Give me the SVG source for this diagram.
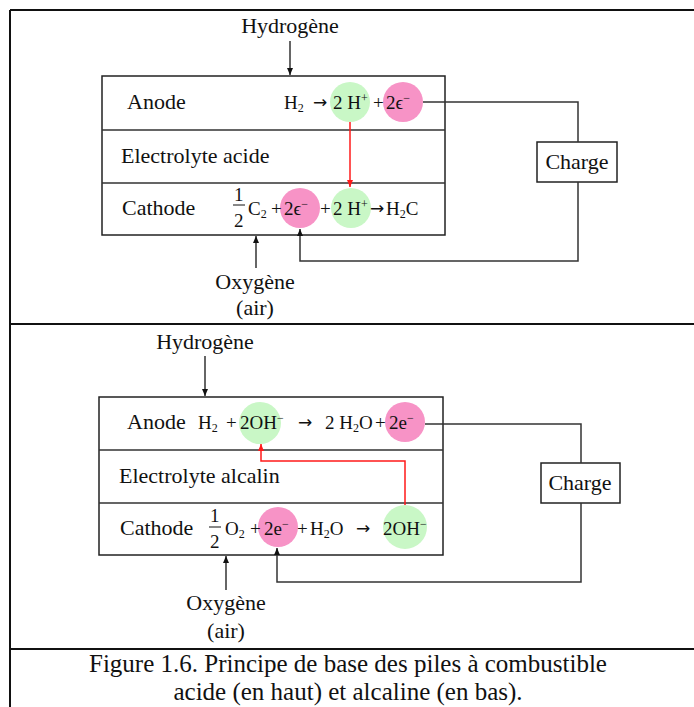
<svg xmlns="http://www.w3.org/2000/svg" width="694" height="707" viewBox="0 0 694 707">
<defs>
<style>
text{font-family:"Liberation Serif","Times New Roman",serif;fill:#111}
.lbl{font-size:22px}
.eq{font-size:19px}
.sub{font-size:12px}
.arr{font-family:"DejaVu Sans",sans-serif;font-size:17px}
.cap{font-size:25px}
.frame{stroke:#111;stroke-width:2;fill:none}
.box{stroke:#222;stroke-width:1.5;fill:#fff}
.wire{stroke:#333;stroke-width:1.5;fill:none}
.red{stroke:#ff1a1a;stroke-width:1.5;fill:none}
.g{fill:#c9f7c6}
.p{fill:#f793c6}
</style>
<marker id="ah" markerWidth="8" markerHeight="8" refX="7" refY="4" orient="auto" markerUnits="userSpaceOnUse"><path d="M0,1 L7,4 L0,7 Z" fill="#111"/></marker>
<marker id="ahr" markerWidth="8" markerHeight="8" refX="7" refY="4" orient="auto" markerUnits="userSpaceOnUse"><path d="M0,1 L7,4 L0,7 Z" fill="#ff1a1a"/></marker>
</defs>
<rect width="694" height="707" fill="#fff"/>
<g id="frame">
<path class="frame" d="M10,10 H694 M10,10 V707 M10,324 H694 M10,649 H694"/>
</g>

<!-- TOP: acid cell -->
<g id="top-cell">
<rect class="box" x="102" y="76" width="343" height="159"/>
<path class="wire" d="M102,130 H445 M102,183 H445"/>
</g>
<g id="top-anode">
<text class="lbl" x="127" y="109">Anode</text>
<circle class="g" cx="350" cy="102" r="20"/>
<circle class="p" cx="403" cy="102" r="20"/>
<text class="eq" x="284" y="109">H<tspan class="sub" dy="3">2</tspan></text>
<text class="arr" x="313" y="108">→</text>
<text class="eq" x="333" y="109">2 H<tspan class="sub" dy="-7">+</tspan></text>
<text class="eq" x="373" y="109">+</text>
<text class="eq" x="386" y="109">2ϵ<tspan class="sub" dy="-7">−</tspan></text>
</g>
<g id="top-electrolyte">
<text class="lbl" x="121" y="163">Electrolyte acide</text>
</g>
<g id="top-cathode">
<text class="lbl" x="122" y="215">Cathode</text>
<circle class="p" cx="300" cy="208" r="20"/>
<circle class="g" cx="351" cy="208" r="20"/>
<text class="eq" x="234" y="201">1</text>
<line x1="233" y1="205" x2="245" y2="205" stroke="#111" stroke-width="1"/>
<text class="eq" x="234" y="227">2</text>
<text class="eq" x="248" y="215">C<tspan class="sub" dy="3">2</tspan></text>
<text class="eq" x="271" y="215">+</text>
<text class="eq" x="284" y="215">2ϵ<tspan class="sub" dy="-7">−</tspan></text>
<text class="eq" x="320" y="215">+</text>
<text class="eq" x="333" y="215">2 H<tspan class="sub" dy="-7">+</tspan></text>
<text class="arr" x="370" y="214">→</text>
<text class="eq" x="386" y="215">H<tspan class="sub" dy="3">2</tspan><tspan dy="-3">C</tspan></text>
</g>
<g id="top-h2">
<text class="lbl" x="290" y="33" text-anchor="middle">Hydrogène</text>
</g>
<g id="top-o2">
<text class="lbl" x="255" y="289" text-anchor="middle">Oxygène</text>
<text class="lbl" x="255" y="315" text-anchor="middle">(air)</text>
</g>
<g id="top-charge">
<rect class="box" x="537" y="142" width="80" height="40"/>
<text class="lbl" x="577" y="169" text-anchor="middle">Charge</text>
</g>

<!-- BOTTOM: alkaline cell -->
<g id="bot-cell">
<rect class="box" x="99" y="397" width="344" height="158"/>
<path class="wire" d="M99,450 H443 M99,503 H443"/>
</g>
<g id="bot-anode">
<text class="lbl" x="127" y="429">Anode</text>
<circle class="g" cx="260" cy="423" r="21"/>
<circle class="p" cx="405" cy="422" r="20"/>
<text class="eq" x="198" y="429">H<tspan class="sub" dy="3">2</tspan></text>
<text class="eq" x="226" y="429">+</text>
<text class="eq" x="240" y="429">2OH<tspan class="sub" dy="-7">−</tspan></text>
<text class="arr" x="298" y="428">→</text>
<text class="eq" x="325" y="429">2 H<tspan class="sub" dy="3">2</tspan><tspan dy="-3">O</tspan></text>
<text class="eq" x="375" y="429">+</text>
<text class="eq" x="389" y="429">2e<tspan class="sub" dy="-7">−</tspan></text>
</g>
<g id="bot-electrolyte">
<text class="lbl" x="119" y="483">Electrolyte alcalin</text>
</g>
<g id="bot-cathode">
<text class="lbl" x="120" y="535">Cathode</text>
<circle class="p" cx="278" cy="527" r="20"/>
<circle class="g" cx="405" cy="527" r="22"/>
<text class="eq" x="210" y="522">1</text>
<line x1="209" y1="527" x2="221" y2="527" stroke="#111" stroke-width="1"/>
<text class="eq" x="210" y="548">2</text>
<text class="eq" x="225" y="535">O<tspan class="sub" dy="3">2</tspan></text>
<text class="eq" x="250" y="535">+</text>
<text class="eq" x="264" y="535">2e<tspan class="sub" dy="-7">−</tspan></text>
<text class="eq" x="297" y="535">+</text>
<text class="eq" x="310" y="535">H<tspan class="sub" dy="3">2</tspan><tspan dy="-3">O</tspan></text>
<text class="arr" x="356" y="534">→</text>
<text class="eq" x="383" y="535">2OH<tspan class="sub" dy="-7">−</tspan></text>
</g>
<g id="bot-h2">
<text class="lbl" x="205" y="349" text-anchor="middle">Hydrogène</text>
</g>
<g id="bot-o2">
<text class="lbl" x="226" y="610" text-anchor="middle">Oxygène</text>
<text class="lbl" x="226" y="638" text-anchor="middle">(air)</text>
</g>
<g id="bot-charge">
<rect class="box" x="541" y="463" width="79" height="40"/>
<text class="lbl" x="580" y="490" text-anchor="middle">Charge</text>
</g>

<g id="connectors">
<line class="wire" x1="290" y1="41" x2="290" y2="75" marker-end="url(#ah)"/>
<line class="wire" x1="256" y1="268" x2="256" y2="236" marker-end="url(#ah)"/>
<path class="wire" d="M423,102 H578 V142 M578,182 V261 H300 V229" marker-end="url(#ah)"/>
<line class="red" x1="350" y1="122" x2="350" y2="187" marker-end="url(#ahr)"/>

<line class="wire" x1="205" y1="356" x2="205" y2="396" marker-end="url(#ah)"/>
<line class="wire" x1="226" y1="590" x2="226" y2="556" marker-end="url(#ah)"/>
<path class="wire" d="M425,424 H581 V463 M581,503 V582 H277 V548" marker-end="url(#ah)"/>
<path class="red" d="M405,505 V461 H261 V444" marker-end="url(#ahr)"/>
</g>

<g id="caption">
<text class="cap" x="348" y="672" text-anchor="middle">Figure 1.6. Principe de base des piles à combustible</text>
<text class="cap" x="348" y="700" text-anchor="middle">acide (en haut) et alcaline (en bas).</text>
</g>
</svg>
